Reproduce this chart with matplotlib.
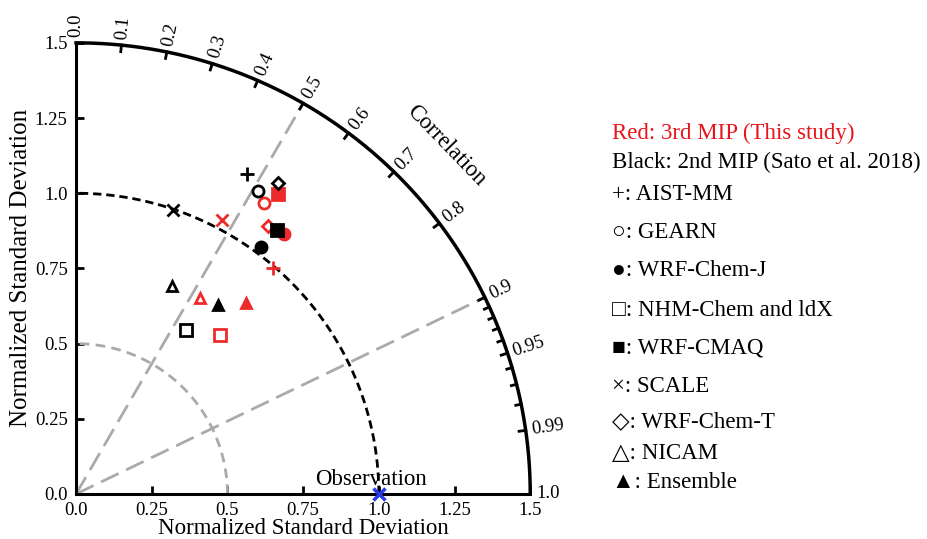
import numpy as np
import matplotlib
matplotlib.use("Agg")
import matplotlib.pyplot as plt

plt.rcParams['font.family'] = ['Liberation Serif', 'DejaVu Sans']
plt.rcParams['lines.scale_dashes'] = False

# ---- data ----
models = ["AIST-MM", "GEARN", "WRF-Chem-J", "NHM-Chem and ldX", "WRF-CMAQ",
          "SCALE", "WRF-Chem-T", "NICAM", "Ensemble"]
legend_symbols = ["+", "○", "●", "□", "■", "×", "◇", "△", "▲"]
markers = ["+", "o", "o", "s", "s", "x", "D", "^", "^"]
filled = [True, False, True, False, True, True, False, False, True]

# 2nd MIP (black)
std_2nd = [1.204, 1.174, 1.024, 0.655, 1.101, 0.996, 1.230, 0.760, 0.782]
corr_2nd = [0.470, 0.512, 0.597, 0.556, 0.603, 0.323, 0.542, 0.417, 0.598]
# 3rd MIP (red)
std_3rd = [0.995, 1.149, 1.103, 0.711, 1.200, 1.032, 1.094, 0.769, 0.849]
corr_3rd = [0.654, 0.540, 0.623, 0.667, 0.556, 0.467, 0.580, 0.531, 0.663]

obs_std = 1.0
corr_major = [0.0, 0.1, 0.2, 0.3, 0.4, 0.5, 0.6, 0.7, 0.8, 0.9, 0.95, 0.99, 1.0]
corr_minor = [0.91, 0.92, 0.93, 0.94, 0.96, 0.97, 0.98]
std_ticks = [0.0, 0.25, 0.5, 0.75, 1.0, 1.25, 1.5]
std_labels = ["0.0", "0.25", "0.5", "0.75", "1.0", "1.25", "1.5"]

RED = "#ee2b2b"
RMAX = 1.5

fig = plt.figure(figsize=(9.27, 5.39), dpi=100)
ax = fig.add_axes([0.082, 0.0835, 0.49, 0.837])
ax.set_xlim(0, RMAX)
ax.set_ylim(0, RMAX)
for s in ["top", "right"]:
    ax.spines[s].set_visible(False)
for s in ["left", "bottom"]:
    ax.spines[s].set_linewidth(2.2)
ax.set_xticks(std_ticks)
ax.set_xticklabels(std_labels)
ax.set_yticks(std_ticks)
ax.set_yticklabels(std_labels)
ax.tick_params(direction="in", length=6, width=2, labelsize=13.5, pad=6)
ax.set_xlabel("Normalized Standard Deviation", fontsize=16.5, labelpad=-1)
ax.set_ylabel("Normalized Standard Deviation", fontsize=18, labelpad=2)

th = np.linspace(0, np.pi / 2, 300)
# outer arc
ax.plot(RMAX * np.cos(th), RMAX * np.sin(th), color="black", lw=2.5, clip_on=False, zorder=3)
# std arcs
l, = ax.plot(0.5 * np.cos(th), 0.5 * np.sin(th), color="#aaaaaa", lw=2)
l.set_dashes((7, 4.5))
l, = ax.plot(1.0 * np.cos(th), 1.0 * np.sin(th), color="black", lw=2)
l.set_dashes((6, 3.5))
# radial lines
for c in [0.5, 0.9]:
    a = np.arccos(c)
    l, = ax.plot([0, RMAX * np.cos(a)], [0, RMAX * np.sin(a)], color="#aaaaaa", lw=2)
    l.set_dashes((14, 6))

# correlation ticks and labels
for c in corr_major:
    a = np.arccos(c)
    ax.plot([RMAX * np.cos(a), (RMAX - 0.022) * np.cos(a)],
            [RMAX * np.sin(a), (RMAX - 0.022) * np.sin(a)], color="black", lw=2, clip_on=False)
    lab = "1.0" if c == 1.0 else ("0.0" if c == 0.0 else f"{c:g}")
    rr = RMAX + 0.02
    ax.text(rr * np.cos(a), rr * np.sin(a), lab, rotation=np.degrees(a),
            rotation_mode="anchor", ha="left", va="center", fontsize=13.5)
for c in corr_minor:
    a = np.arccos(c)
    ax.plot([RMAX * np.cos(a), (RMAX - 0.018) * np.cos(a)],
            [RMAX * np.sin(a), (RMAX - 0.018) * np.sin(a)], color="black", lw=2, clip_on=False)

ang = np.radians(43.5)
ax.text(1.685 * np.cos(ang), 1.685 * np.sin(ang), "Correlation", rotation=-46,
        rotation_mode="anchor", ha="center", va="center", fontsize=16.5)

# model points
def draw(stds, corrs, color, z):
    for s, c, m, f in zip(stds, corrs, markers, filled):
        a = np.arccos(c)
        x, y = s * np.cos(a), s * np.sin(a)
        ms = {"+": 10, "x": 8, "o": 8, "s": 8, "D": 6.5, "^": 7}[m]
        ax.plot(x, y, marker=m, ms=ms, mew=2.0, color=color,
                mfc=color if f else "white", mec=color, ls="none", zorder=z)

draw(std_3rd, corr_3rd, RED, 5)
draw(std_2nd, corr_2nd, "black", 6)

# observation
ax.plot(obs_std, 0, marker="x", ms=9, mew=2.5, color="#2a3ae8", clip_on=False, zorder=7)
ax.text(0.975, 0.012, "Observation", ha="center", va="bottom", fontsize=16.5)

# legend text
x0 = 612 / 927
H = 539
fs = 16.5
fig.text(x0, 1 - 133 / H, "Red: 3rd MIP (This study)", color="#e8141c", fontsize=fs, va="center")
fig.text(x0, 1 - 162 / H, "Black: 2nd MIP (Sato et al. 2018)", color="black", fontsize=fs, va="center")
ys = [195, 232, 271, 310, 348, 387, 422, 453, 483]
for sym, name, y in zip(legend_symbols, models, ys):
    fig.text(x0, 1 - y / H, f"{sym}: {name}", fontsize=fs, va="center")

fig.savefig("out.png", dpi=100)
